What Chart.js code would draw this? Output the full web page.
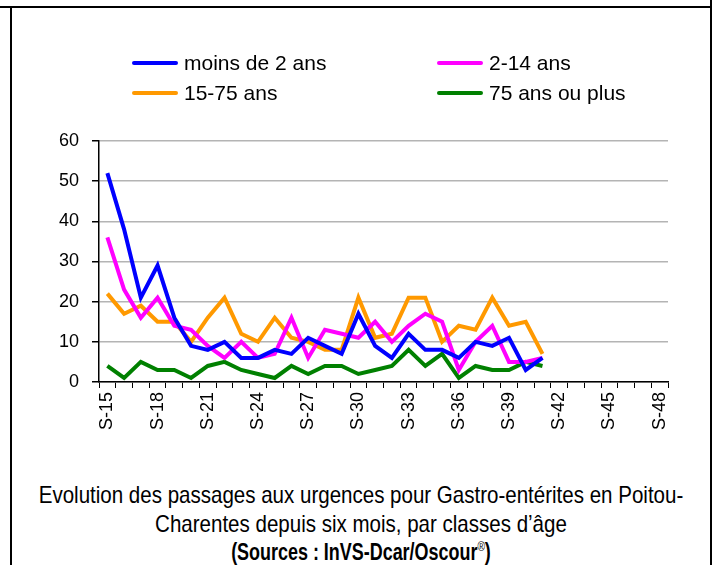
<!DOCTYPE html>
<html>
<head>
<meta charset="utf-8">
<script src="https://cdn.jsdelivr.net/npm/chart.js@4.4.1/dist/chart.umd.min.js"></script>
<style>
  html, body { margin: 0; padding: 0; background: #fff; }
  body { width: 715px; height: 565px; position: relative; overflow: hidden; font-family: "Liberation Sans", Arial, sans-serif; }
  #chart { position: absolute; left: 0; top: 0; }
  .border { position: absolute; background: #000; }
  .legend-item { position: absolute; height: 22px; display: flex; align-items: center; font-size: 21px; color: #000; }
  .legend-item .swatch { width: 46px; height: 4px; border-radius: 2px; margin-right: 6px; }
  #caption { position: absolute; left: -189px; width: 1100px; top: 480px; text-align: center; color: #000; }
  .cap-line { height: 29px; line-height: 29px; white-space: nowrap; font-size: 24px;
              transform: scaleX(0.855); transform-origin: center; }
  .cap-line.bold { font-weight: bold; font-size: 23px; transform: scaleX(0.78); }
  .sup { position: relative; top: -9px; font-size: 13px; font-weight: normal; }
</style>
</head>
<body>
<div class="border" style="left:0;top:6px;width:711px;height:2px"></div>
<div class="border" style="left:10px;top:7px;width:2px;height:558px"></div>
<div class="border" style="left:710px;top:0;width:2px;height:565px"></div>
<canvas id="chart" width="715" height="450"></canvas>
<div id="legend"></div>
<div id="caption">
  <div class="cap-line">Evolution des passages aux urgences pour Gastro-entérites en Poitou-</div>
  <div class="cap-line">Charentes depuis six mois, par classes d’âge</div>
  <div class="cap-line bold">(Sources : InVS-Dcar/Oscour<span class="sup">®</span>)</div>
</div>
<script>
const weeks = [];
for (let w = 15; w <= 48; w++) weeks.push('S-' + w);

const seriesNames = ['moins de 2 ans', '2-14 ans', '15-75 ans', '75 ans ou plus'];
const seriesColors = ['#0000ff', '#ff00ff', '#ff9900', '#008000'];

// S-15 .. S-41
const moinsDe2 = [52, 38, 21, 29, 16, 9, 8, 10, 6, 6, 8, 7, 11, 9, 7, 17, 9, 6, 12, 8, 8, 6, 10, 9, 11, 3, 6];
const de2a14 = [36, 23, 16, 21, 14, 13, 9, 6, 10, 6, 7, 16, 6, 13, 12, 11, 15, 10, 14, 17, 15, 3, 10, 14, 5, 5, 6];
const de15a75 = [22, 17, 19, 15, 15, 10, 16, 21, 12, 10, 16, 11, 10, 8, 8, 21, 11, 12, 21, 21, 10, 14, 13, 21, 14, 15, 7];
const plus75 = [4, 1, 5, 3, 3, 1, 4, 5, 3, 2, 1, 4, 2, 4, 4, 2, 3, 4, 8, 4, 7, 1, 4, 3, 3, 5, 4];

const yTicks = [0, 10, 20, 30, 40, 50, 60];

const allSeries = [moinsDe2, de2a14, de15a75, plus75];

// legend (2 x 2)
const legendPos = [[132, 52], [437, 52], [132, 82], [437, 82]];
const legendEl = document.getElementById('legend');
seriesNames.forEach((name, i) => {
    const item = document.createElement('div');
    item.className = 'legend-item';
    item.style.left = legendPos[i][0] + 'px';
    item.style.top = legendPos[i][1] + 'px';
    item.innerHTML = '<span class="swatch" style="background:' + seriesColors[i] + '"></span>' + name;
    legendEl.appendChild(item);
});

new Chart(document.getElementById('chart').getContext('2d'), {
    type: 'line',
    data: {
        labels: weeks,
        datasets: allSeries.map((d, i) => ({
            label: seriesNames[i],
            data: d,
            borderColor: seriesColors[i],
            borderWidth: 4,
            pointRadius: 0,
            tension: 0,
            fill: false
        }))
    },
    options: {
        responsive: false,
        animation: false,
        layout: { padding: { left: 45, top: 141, right: 47, bottom: 0 } },
        plugins: { legend: { display: false }, tooltip: { enabled: false } },
        scales: {
            x: {
                offset: true,
                afterFit: s => { s.height = 68; },
                border: { color: '#000', width: 1.5 },
                grid: { drawOnChartArea: false, offset: true, tickLength: 6, color: '#000' },
                ticks: {
                    autoSkip: false,
                    minRotation: 90,
                    maxRotation: 90,
                    padding: 4,
                    color: '#000',
                    font: { family: 'Liberation Sans, Arial', size: 18 },
                    callback: function (v, i) { return i % 3 === 0 ? this.getLabelForValue(v) : ''; }
                }
            },
            y: {
                min: 0,
                max: 60,
                afterFit: s => { s.width = 54; },
                afterBuildTicks: s => { s.ticks = yTicks.map(v => ({ value: v })); },
                border: { color: '#000', width: 1.5 },
                grid: { color: '#b4b4b4', lineWidth: 1.5, tickLength: 7, tickColor: '#000' },
                ticks: {
                    padding: 13,
                    color: '#000',
                    font: { family: 'Liberation Sans, Arial', size: 18 }
                }
            }
        }
    }
});
</script>
</body>
</html>
